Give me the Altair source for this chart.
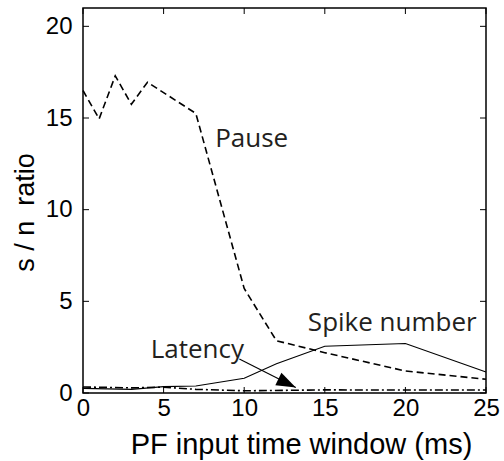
import altair as alt
import pandas as pd

# --- data ---
pause_x = [0, 1, 2, 3, 4, 7, 10, 12, 15, 20, 25]
pause_y = [16.5, 14.95, 17.3, 15.75, 16.95, 15.25, 5.7, 2.85, 2.2, 1.2, 0.75]

spike_x = [0, 3, 5, 7, 10, 12, 15, 20, 25]
spike_y = [0.25, 0.2, 0.35, 0.38, 0.8, 1.6, 2.55, 2.7, 1.15]

lat_x = [0, 3, 5, 7, 10, 15, 20, 25]
lat_y = [0.33, 0.28, 0.32, 0.2, 0.12, 0.17, 0.16, 0.16]

x_ticks = [0, 5, 10, 15, 20, 25]
y_ticks = [0, 5, 10, 15, 20]

labels = ["Pause", "Spike number", "Latency"]
label_x = [8.2, 13.95, 4.2]
label_y = [13.4, 3.4, 1.9]

arrow_x = [9.7]
arrow_y = [1.85]
arrow_x2 = [13.2]
arrow_y2 = [0.3]

W, H = 403, 385
xs = alt.Scale(domain=[0, 25], nice=False, zero=False)
ys = alt.Scale(domain=[0, 21], nice=False, zero=False)

pause = pd.DataFrame({"x": pause_x, "y": pause_y})
spike = pd.DataFrame({"x": spike_x, "y": spike_y})
lat = pd.DataFrame({"x": lat_x, "y": lat_y})

base_x = alt.X("x:Q", scale=xs, axis=alt.Axis(
    values=x_ticks, ticks=False, domain=False, grid=False, labelFont="Liberation Sans",
    labelFontSize=24, labelColor="black", labelPadding=3, title="PF input time window (ms)",
    titleFont="Liberation Sans", titleFontSize=29, titleFontWeight="normal", titleColor="black",
    titleX=218, titleY=60, titleBaseline="alphabetic", labelFlush=False))
base_y = alt.Y("y:Q", scale=ys, axis=alt.Axis(
    values=y_ticks, ticks=False, domain=False, grid=False, labelFont="Liberation Sans",
    labelFontSize=24, labelColor="black", labelPadding=11, title="s / n\u00a0 ratio",
    titleFont="Liberation Sans", titleFontSize=27, titleFontWeight="normal", titleColor="black",
    titleY=204, titleX=-50, titleBaseline="alphabetic", labelFlush=False))

l_pause = alt.Chart(pause).mark_line(color="black", strokeWidth=1.6, strokeDash=[7, 4]).encode(x=base_x, y=base_y)
l_spike = alt.Chart(spike).mark_line(color="black", strokeWidth=1.1).encode(
    x=alt.X("x:Q", scale=xs), y=alt.Y("y:Q", scale=ys))
l_lat = alt.Chart(lat).mark_line(color="black", strokeWidth=1.6, strokeDash=[8, 3, 2, 3]).encode(
    x=alt.X("x:Q", scale=xs), y=alt.Y("y:Q", scale=ys))

xt = pd.DataFrame({"x": x_ticks})
yt = pd.DataFrame({"y": y_ticks})
tick_bot = alt.Chart(xt).mark_rule(color="black", strokeWidth=1).encode(
    x=alt.X("x:Q", scale=xs), y=alt.value(H - 6), y2=alt.value(H))
tick_top = alt.Chart(xt).mark_rule(color="black", strokeWidth=1).encode(
    x=alt.X("x:Q", scale=xs), y=alt.value(0), y2=alt.value(6))
tick_left = alt.Chart(yt).mark_rule(color="black", strokeWidth=1).encode(
    y=alt.Y("y:Q", scale=ys), x=alt.value(0), x2=alt.value(6))
tick_right = alt.Chart(yt).mark_rule(color="black", strokeWidth=1).encode(
    y=alt.Y("y:Q", scale=ys), x=alt.value(W - 6), x2=alt.value(W))

lab = pd.DataFrame({"t": labels, "x": label_x, "y": label_y})
texts = alt.Chart(lab).mark_text(font="Open Sans", fontSize=26, align="left", baseline="alphabetic",
                                  color="#231f20").encode(
    x=alt.X("x:Q", scale=xs), y=alt.Y("y:Q", scale=ys), text="t:N")

arr = pd.DataFrame({"x": arrow_x, "y": arrow_y, "x2": arrow_x2, "y2": arrow_y2})
arrow_line = alt.Chart(arr).mark_rule(color="black", strokeWidth=1.1).encode(
    x=alt.X("x:Q", scale=xs), y=alt.Y("y:Q", scale=ys), x2="x2:Q", y2="y2:Q")
arrow_head = alt.Chart(arr).mark_point(shape="M0,0 L-1,-0.36 L-1,0.36 Z", filled=True, color="black",
                                       opacity=1, size=1500, angle=26).encode(
    x=alt.X("x2:Q", scale=xs), y=alt.Y("y2:Q", scale=ys))

chart = alt.layer(l_pause, l_spike, l_lat, tick_bot, tick_top, tick_left, tick_right,
                  texts, arrow_line, arrow_head).properties(
    width=W, height=H, autosize="none",
    padding={"left": 83, "top": 8, "right": 18, "bottom": 68},
    background="white",
).configure_view(stroke="black", strokeWidth=1.5)

chart.save("out.html", embed_options={"renderer": "svg", "actions": False})
